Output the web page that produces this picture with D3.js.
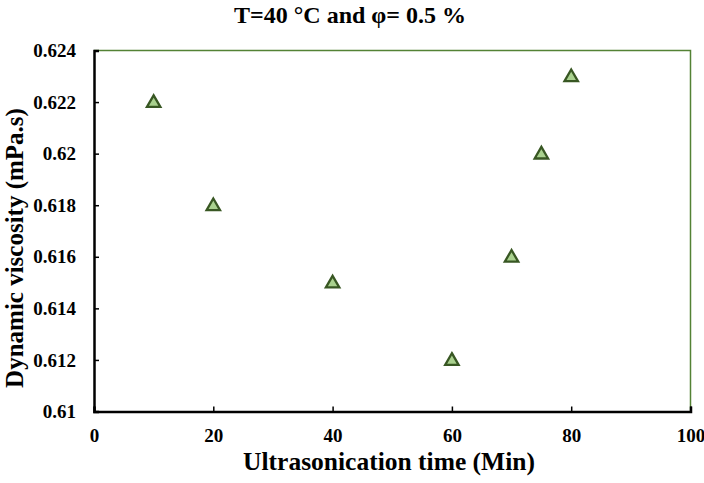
<!DOCTYPE html>
<html><head><meta charset="utf-8">
<script src="https://cdn.jsdelivr.net/npm/d3@7"></script>
<style>body{margin:0;background:#fff}text{font-family:"Liberation Serif","Times New Roman",serif;font-weight:bold}</style>
</head><body>
<svg id="c" width="704" height="483"></svg>
<script>
const times = [10, 20, 40, 60, 70, 75, 80];
const viscosity = [0.622, 0.618, 0.615, 0.612, 0.616, 0.620, 0.623];
const xTicks = [0, 20, 40, 60, 80, 100];
const yTicks = [0.61, 0.612, 0.614, 0.616, 0.618, 0.62, 0.622, 0.624];
const title = "T=40 °C and φ= 0.5 %";
const xTitle = "Ultrasonication time (Min)";
const yTitle = "Dynamic viscosity (mPa.s)";

const svg = d3.select("#c");
const m = {l: 94, r: 690.5, t: 50.5, b: 411.5};
const x = d3.scaleLinear().domain([0, 100]).range([m.l, m.r]);
const y = d3.scaleLinear().domain([0.61, 0.624]).range([m.b, m.t]);

// top/right border green
svg.append("path").attr("d", `M${m.l},${m.t}H${m.r}V${m.b}`)
  .attr("fill", "none").attr("stroke", "#548235").attr("stroke-width", 1.5);

const xa = svg.append("g").attr("transform", `translate(0,${m.b})`)
  .call(d3.axisBottom(x).tickValues(xTicks).tickSize(-5).tickPadding(17).tickFormat(d3.format("d")));
const ya = svg.append("g").attr("transform", `translate(${m.l},0)`)
  .call(d3.axisLeft(y).tickValues(yTicks).tickSize(-5).tickPadding(18).tickFormat(d => String(+d.toFixed(3))));
[xa, ya].forEach(a => {
  a.select(".domain").attr("stroke", "#000").attr("stroke-width", 2.5);
  a.selectAll(".tick line").attr("stroke", "#000").attr("stroke-width", 1.5);
  a.selectAll("text").attr("font-size", 19).attr("fill", "#000");
});

const tri = d3.symbol().type(d3.symbolTriangle).size(78);
svg.append("g").selectAll("path").data(times).join("path")
  .attr("d", tri)
  .attr("transform", (d, i) => `translate(${x(d)},${y(viscosity[i]) + 1})`)
  .attr("fill", "#a9d18e").attr("stroke", "#385723").attr("stroke-width", 2.3)
  .attr("stroke-linejoin", "miter");

svg.append("text").attr("x", 350).attr("y", 23).attr("text-anchor", "middle")
  .attr("font-size", 24).text(title);
svg.append("text").attr("x", 389).attr("y", 470).attr("text-anchor", "middle")
  .attr("font-size", 25.5).text(xTitle);
svg.append("text").attr("transform", `translate(23,248) rotate(-90)`)
  .attr("text-anchor", "middle").attr("font-size", 25).text(yTitle);
</script>
</body></html>
